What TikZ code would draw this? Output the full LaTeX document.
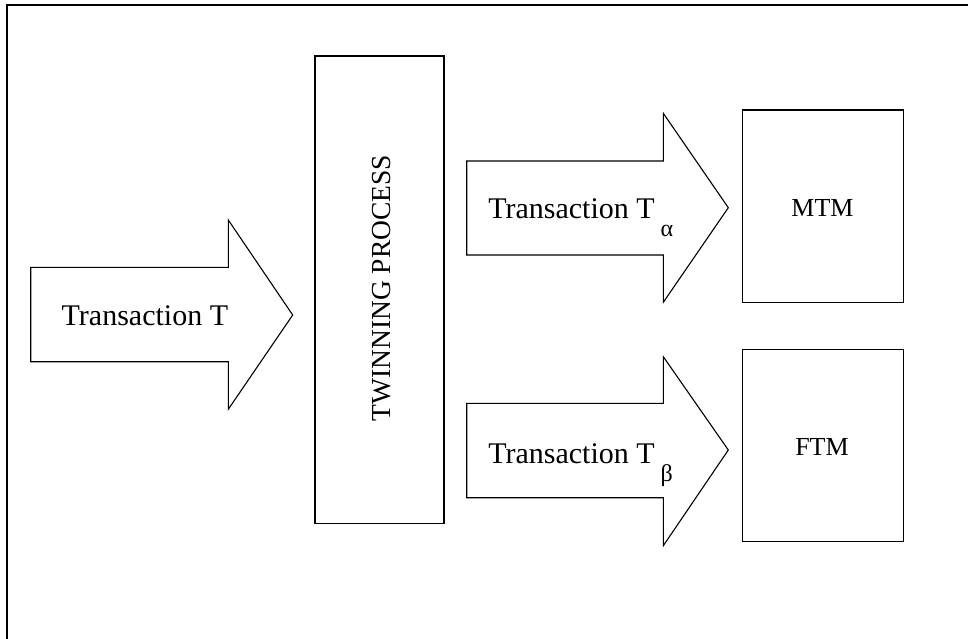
\documentclass[tikz,border=0pt]{standalone}
\usepackage{fontspec}
\setmainfont{Liberation Serif}
\begin{document}
\begin{tikzpicture}[x=1pt,y=-1pt,
  outline/.style={draw=black,line width=1.1pt,line join=miter},
  frameline/.style={draw=black,line width=2pt},
  label/.style={inner sep=0pt,outer sep=0pt,font=\fontsize{30}{36}\selectfont},
  boxlabel/.style={inner sep=0pt,outer sep=0pt,font=\fontsize{26}{31}\selectfont}]
\useasboundingbox (0,0) rectangle (968,639);
\fill[white] (0,0) rectangle (968,639);

% outer frame (top and left edges)
\coordinate (fbl) at (7,639);
\coordinate (ftl) at (7,5);
\coordinate (ftr) at (968,5);
\draw[frameline] (fbl) -- (ftl) -- (ftr);

% incoming block arrow
\draw[outline] (30.7,267.3) -- (228.3,267.3) -- (228.3,220) -- (292.7,315)
  -- (228.3,409.3) -- (228.3,361.7) -- (30.7,361.7) -- cycle;
\node[label,anchor=base west] (tin) at (61.7,325) {Transaction T};

% twinning process box
\draw[outline] (315,56) rectangle (444,523.3);
\node[inner sep=0pt,anchor=base,rotate=90,font=\fontsize{27.5}{33}\selectfont]
  (twin) at (390,288.3) {TWINNING PROCESS};

% outgoing block arrows
\draw[outline] (466.7,161) -- (663.3,161) -- (663.3,113.3) -- (728.3,207.7)
  -- (663.3,302.3) -- (663.3,255) -- (466.7,255) -- cycle;
\node[label,anchor=base west] (ta) at (488.3,218.3)
  {Transaction T\hspace{6pt}\raisebox{-18pt}{\fontsize{24}{24}\selectfont α}};

\draw[outline] (466.7,403.3) -- (663.3,403.3) -- (663.3,356.7) -- (728.3,450)
  -- (663.3,545.7) -- (663.3,497.7) -- (466.7,497.7) -- cycle;
\node[label,anchor=base west] (tb) at (488.3,463.3)
  {Transaction T\hspace{6pt}\raisebox{-18pt}{\fontsize{24}{24}\selectfont β}};

% target managers
\draw[outline] (742.7,110) rectangle (903.3,302.7);
\node[boxlabel,anchor=base] (mtm) at (822.5,216.7) {MTM};
\draw[outline] (742.7,349.3) rectangle (903.3,541.7);
\node[boxlabel,anchor=base] (ftm) at (822,455.7) {FTM};
\end{tikzpicture}
\end{document}
